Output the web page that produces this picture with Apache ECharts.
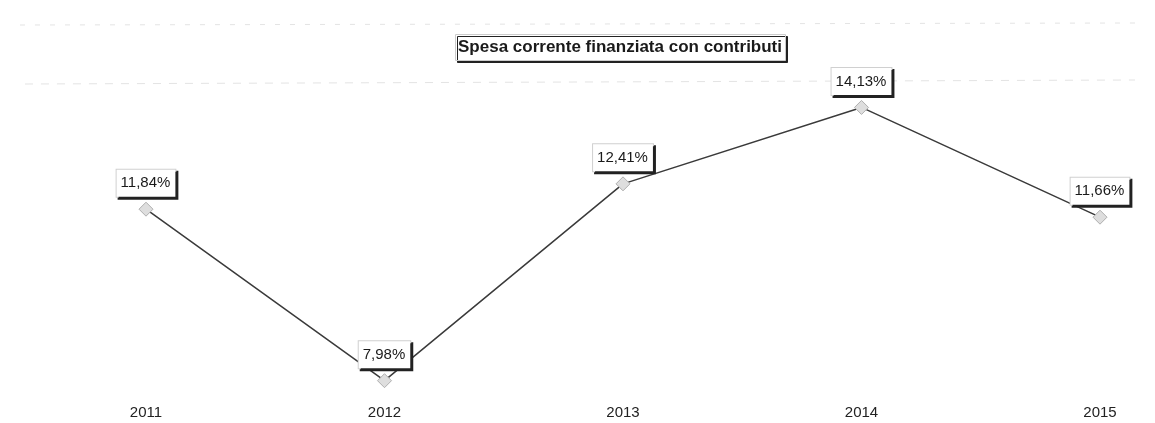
<!DOCTYPE html>
<html>
<head>
<meta charset="utf-8">
<script src="https://cdn.jsdelivr.net/npm/echarts@6/dist/echarts.min.js"></script>
<style>
  html, body { margin: 0; padding: 0; background: #fff; }
  #main { width: 1155px; height: 423px; }
</style>
</head>
<body>
<div id="main"></div>
<script type="text/javascript">
    // dati del grafico
    var anni = ['2011', '2012', '2013', '2014', '2015'];
    var spesaContributi = [11.84, 7.98, 12.41, 14.13, 11.66];
    var titolo = 'Spesa corrente finanziata con contributi';

    var myChart = echarts.init(document.getElementById('main'));

    // formato italiano: virgola decimale
    function percIt(v) {
        return v.toFixed(2).replace('.', ',') + '%';
    }

    var option = {
        backgroundColor: '#fff',
        animation: false,
        title: {
            text: titolo,
            left: 455,
            top: 34,
            padding: [5, 4, 5, 3],
            backgroundColor: '#fff',
            borderColor: '#ccc',
            borderWidth: 1,
            shadowColor: '#222',
            shadowOffsetX: 2,
            shadowOffsetY: 2,
            textStyle: {
                fontFamily: 'Liberation Sans, Arial',
                fontSize: 17,
                fontWeight: 'bold',
                color: '#1a1a1a'
            }
        },
        // bordi tratteggiati chiari dell'area (come nella scansione)
        graphic: [
            { type: 'line', shape: { x1: 20, y1: 25, x2: 1140, y2: 23 },
              style: { stroke: '#e4e4e4', lineWidth: 1, lineDash: [5, 10] } },
            { type: 'line', shape: { x1: 25, y1: 84, x2: 1135, y2: 80 },
              style: { stroke: '#e4e4e4', lineWidth: 1, lineDash: [8, 8] } }
        ],
        grid: {
            left: 146,
            right: 55,
            top: 91,
            bottom: 21
        },
        xAxis: {
            type: 'category',
            data: anni,
            boundaryGap: false,
            axisLine: { show: false },
            axisTick: { show: false },
            axisLabel: {
                margin: 3,
                fontFamily: 'Liberation Sans, Arial',
                fontSize: 15,
                color: '#222'
            }
        },
        yAxis: {
            type: 'value',
            min: 7.5,
            max: 14.5,
            show: false,
            splitLine: { show: false }
        },
        series: [{
            name: titolo,
            type: 'line',
            data: spesaContributi,
            symbol: 'diamond',
            symbolSize: 14,
            lineStyle: { color: '#3a3a3a', width: 1.5 },
            itemStyle: { color: '#dedede', borderColor: '#b0b0b0', borderWidth: 1 },
            label: {
                show: true,
                position: 'top',
                distance: 5,
                formatter: function (p) { return percIt(p.value); },
                fontFamily: 'Liberation Sans, Arial',
                fontSize: 15,
                color: '#1a1a1a',
                backgroundColor: '#fff',
                borderColor: '#d0d0d0',
                borderWidth: 1,
                padding: [6, 5, 6, 4],
                shadowColor: '#222',
                shadowOffsetX: 2,
                shadowOffsetY: 2
            }
        }]
    };

    myChart.setOption(option);
</script>
</body>
</html>
